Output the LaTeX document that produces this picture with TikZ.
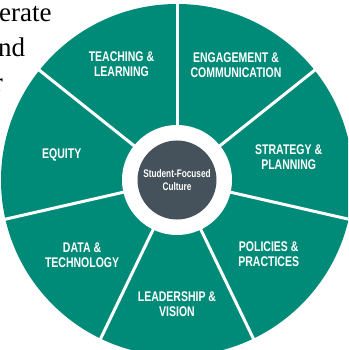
\documentclass[tikz,border=0pt]{standalone}
\usepackage{fontspec}
\setmainfont{Liberation Serif}
\newfontfamily\labelfont[FakeStretch=0.75]{Liberation Sans}

\definecolor{wheelteal}{RGB}{0,138,120}
\definecolor{coreslate}{RGB}{69,82,91}

\begin{document}
\begin{tikzpicture}[x=1pt,y=1pt,
    segment/.style ={text=white, align=center,
      font=\labelfont\bfseries\fontsize{14}{15}\selectfont},
    divider/.style ={white, line width=3pt},
    core/.style ={circle, fill=coreslate, minimum size=79pt, inner sep=0pt,
      text=white, align=center, font=\labelfont\bfseries\fontsize{11}{12.5}\selectfont},
    fragment/.style ={inner sep=0pt, font=\fontsize{27}{30}\selectfont}]
   \useasboundingbox (-177,-170) rectangle (171,180);
   \clip (-177,-170) rectangle (171,180);

   % wheel
   \fill[wheelteal] (0,0) circle (176);
   \draw[divider] (0,0) -- (90:190);
   \draw[divider] (0,0) -- (141.43:190);
   \draw[divider] (0,0) -- (192.86:190);
   \draw[divider] (0,0) -- (244.29:190);
   \draw[divider] (0,0) -- (295.71:190);
   \draw[divider] (0,0) -- (347.14:190);
   \draw[divider] (0,0) -- (38.57:190);
   \fill[white] (0,0) circle (55);

   \node[core] (culture) at (0,0) {Student-Focused\\Culture};

   \node[segment] (teaching)   at (115.7:128) {TEACHING \&\\LEARNING};
   \node[segment] (engagement) at (62.8:129)  {ENGAGEMENT \&\\COMMUNICATION};
   \node[segment] (strategy)   at (11.6:114)  {STRATEGY \&\\PLANNING};
   \node[segment] (policies)   at (321:118)   {POLICIES \&\\PRACTICES};
   \node[segment] (leadership) at (270:124)   {LEADERSHIP \&\\VISION};
   \node[segment] (data)       at (218.3:121) {DATA \&\\TECHNOLOGY};
   \node[segment] (equity)     at (167.7:118) {EQUITY};

   % cut-off text at the top left
   \node[fragment, anchor=base west] (line1) at (-178,158) {erate};
   \node[fragment, anchor=base west] (line2) at (-179,123) {nd};
   \node[fragment, anchor=base east] (line3) at (-174,88)  {r};
 \end{tikzpicture}
\end{document}
